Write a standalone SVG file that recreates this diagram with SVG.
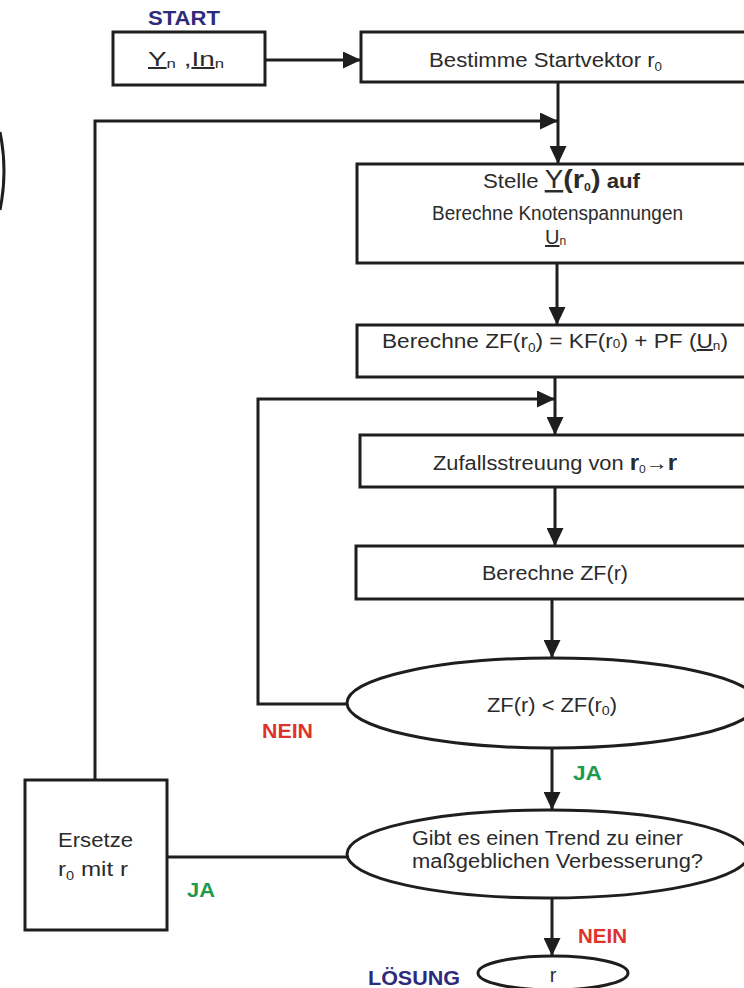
<svg xmlns="http://www.w3.org/2000/svg" width="744" height="988" viewBox="0 0 744 988">
<defs>
<style>
.box{fill:#fff;stroke:#1e1e1e;stroke-width:3}
.ln{fill:none;stroke:#1e1e1e;stroke-width:3}
.t{font-family:"Liberation Sans",Arial,sans-serif;font-size:20px;fill:#2b2b2b}
.lbl{font-family:"Liberation Sans",Arial,sans-serif;font-size:20px;font-weight:bold}
.navy{fill:#2e2a7c}
.red{fill:#e0322c}
.green{fill:#1e9a4c}
</style>
<marker id="ah" markerUnits="userSpaceOnUse" markerWidth="19" markerHeight="17" refX="18" refY="8.5" orient="auto">
<path d="M0,0 L18,8.5 L0,17 z" fill="#1e1e1e"/>
</marker>
</defs>
<rect width="744" height="988" fill="#fff"/>
<path d="M0,132 Q8,171 0,210" fill="none" stroke="#1e1e1e" stroke-width="3"/>

<g id="connectors">
<line class="ln" x1="265" y1="60" x2="361" y2="60" marker-end="url(#ah)"/>
<line class="ln" x1="558" y1="82" x2="558" y2="164" marker-end="url(#ah)"/>
<path class="ln" d="M95,780 V121 H558" marker-end="url(#ah)"/>
<line class="ln" x1="557" y1="263" x2="557" y2="325" marker-end="url(#ah)"/>
<line class="ln" x1="555" y1="377" x2="555" y2="435" marker-end="url(#ah)"/>
<path class="ln" d="M347,704 H258 V399 H555" marker-end="url(#ah)"/>
<line class="ln" x1="555" y1="487" x2="555" y2="546" marker-end="url(#ah)"/>
<line class="ln" x1="552" y1="599" x2="552" y2="658" marker-end="url(#ah)"/>
<line class="ln" x1="552" y1="749" x2="552" y2="810" marker-end="url(#ah)"/>
<line class="ln" x1="347" y1="857" x2="167" y2="857"/>
<line class="ln" x1="552" y1="898" x2="552" y2="956" marker-end="url(#ah)"/>
</g>

<g id="start">
<text class="lbl navy" x="148" y="25" textLength="72" lengthAdjust="spacingAndGlyphs">START</text>
<rect class="box" x="113" y="32" width="152" height="53"/>
<text class="t" x="148" y="66" font-size="24" textLength="76" lengthAdjust="spacingAndGlyphs"><tspan text-decoration="underline">Y</tspan><tspan font-size="12" dy="2">n</tspan><tspan dy="-2"> ,</tspan><tspan text-decoration="underline">In</tspan><tspan font-size="12" dy="2">n</tspan></text>
</g>

<g id="bestimme">
<rect class="box" x="361" y="32" width="400" height="50"/>
<text class="t" x="429" y="67" font-size="21" textLength="233" lengthAdjust="spacingAndGlyphs">Bestimme Startvektor r<tspan font-size="12" dy="4">0</tspan></text>
</g>

<g id="stelle">
<rect class="box" x="357" y="164" width="404" height="99"/>
<text class="t" x="483" y="188" textLength="157" lengthAdjust="spacingAndGlyphs">Stelle <tspan font-size="25" text-decoration="underline">Y</tspan><tspan font-size="26" font-weight="bold">(r</tspan><tspan font-size="11" font-weight="bold" dy="3">0</tspan><tspan font-size="26" font-weight="bold" dy="-3">)</tspan><tspan font-weight="bold"> auf</tspan></text>
<text class="t" x="432" y="220" font-size="19" textLength="251" lengthAdjust="spacingAndGlyphs">Berechne Knotenspannungen</text>
<text class="t" x="545" y="244" font-size="19"><tspan text-decoration="underline">U</tspan><tspan font-size="12" dy="1">n</tspan></text>
</g>

<g id="zf0">
<rect class="box" x="357" y="325" width="404" height="52"/>
<text class="t" x="382" y="348" textLength="346" lengthAdjust="spacingAndGlyphs">Berechne ZF(r<tspan font-size="12" dy="4">0</tspan><tspan dy="-4">) = KF(r</tspan><tspan font-size="12">0</tspan><tspan>) + PF (</tspan><tspan text-decoration="underline">U</tspan><tspan font-size="12" dy="2">n</tspan><tspan dy="-2">)</tspan></text>
</g>

<g id="zufall">
<rect class="box" x="360" y="435" width="401" height="52"/>
<text class="t" x="433" y="470" textLength="244" lengthAdjust="spacingAndGlyphs">Zufallsstreuung von <tspan font-weight="bold" font-size="22">r</tspan><tspan font-size="11" dy="3">0</tspan><tspan dy="-3" font-weight="bold">→</tspan><tspan font-weight="bold" font-size="22">r</tspan></text>
</g>

<g id="zfr">
<rect class="box" x="356" y="546" width="405" height="53"/>
<text class="t" x="482" y="580" font-size="21" textLength="146" lengthAdjust="spacingAndGlyphs">Berechne ZF(r)</text>
</g>

<g id="vergleich">
<ellipse class="box" cx="552" cy="703" rx="205" ry="45"/>
<text class="t" x="487" y="712" font-size="21" textLength="130" lengthAdjust="spacingAndGlyphs">ZF(r) &lt; ZF(r<tspan font-size="13" dy="3">0</tspan><tspan dy="-3">)</tspan></text>
<text class="lbl red" x="262" y="738" textLength="51" lengthAdjust="spacingAndGlyphs">NEIN</text>
<text class="lbl green" x="573" y="780" textLength="29" lengthAdjust="spacingAndGlyphs">JA</text>
</g>

<g id="trend">
<ellipse class="box" cx="548" cy="854" rx="201" ry="44"/>
<text class="t" x="412" y="845" textLength="271" lengthAdjust="spacingAndGlyphs">Gibt es einen Trend zu einer</text>
<text class="t" x="412" y="868" textLength="291" lengthAdjust="spacingAndGlyphs">maßgeblichen Verbesserung?</text>
<text class="lbl red" x="578" y="943" textLength="49" lengthAdjust="spacingAndGlyphs">NEIN</text>
<text class="lbl green" x="187" y="897" textLength="28" lengthAdjust="spacingAndGlyphs">JA</text>
</g>

<g id="ersetze">
<rect class="box" x="25" y="780" width="142" height="150"/>
<text class="t" x="58" y="847" font-size="21" textLength="75" lengthAdjust="spacingAndGlyphs">Ersetze</text>
<text class="t" x="58" y="876" font-size="21" textLength="70" lengthAdjust="spacingAndGlyphs">r<tspan font-size="12" dy="4">0</tspan><tspan dy="-4"> mit r</tspan></text>
</g>

<g id="loesung">
<text class="lbl navy" x="368" y="985" textLength="92" lengthAdjust="spacingAndGlyphs">LÖSUNG</text>
<ellipse class="box" cx="553" cy="973" rx="75" ry="17"/>
<text class="t" x="553" y="982" text-anchor="middle" font-size="21">r</text>
</g>
</svg>
